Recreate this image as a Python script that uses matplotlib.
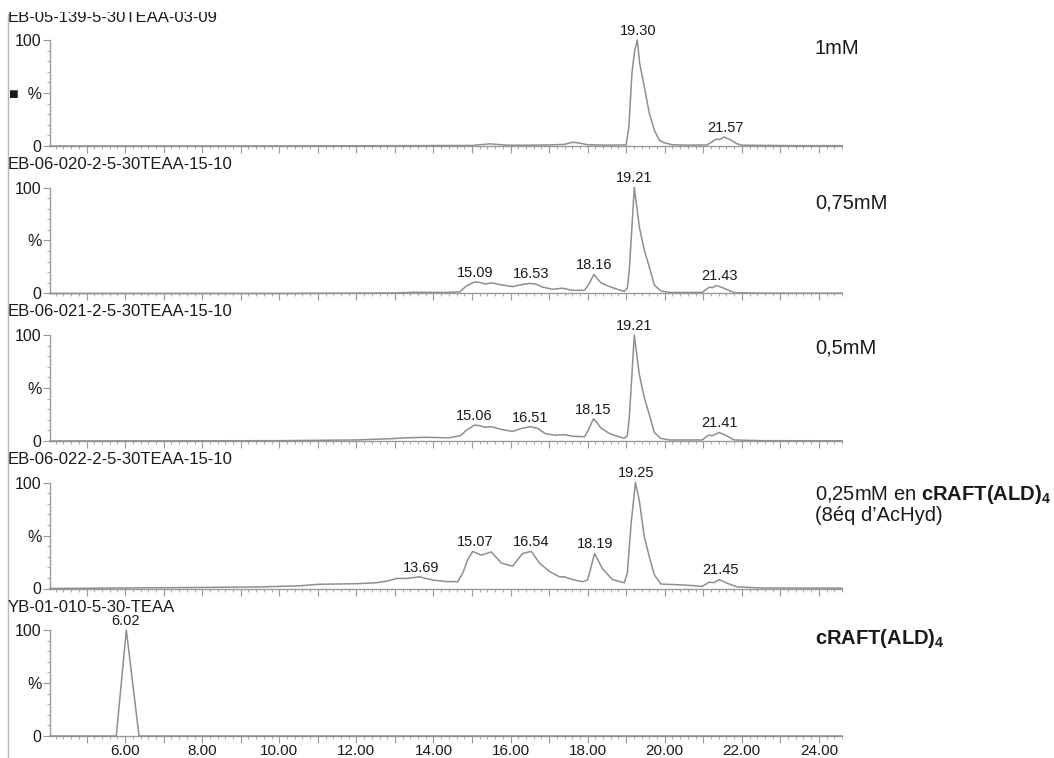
import numpy as np
import matplotlib
matplotlib.use("Agg")
import matplotlib.pyplot as plt
from matplotlib.ticker import MultipleLocator, FuncFormatter
from matplotlib.lines import Line2D
from matplotlib.patches import Rectangle

plt.rcParams["font.family"] = ["Liberation Sans", "DejaVu Sans"]
plt.rcParams["mathtext.fontset"] = "custom"
plt.rcParams["mathtext.rm"] = "Liberation Sans"
plt.rcParams["mathtext.bf"] = "Liberation Sans:bold"

# --- data (time in min, intensity in %) ---
titles = ["EB-05-139-5-30TEAA-03-09",
          "EB-06-020-2-5-30TEAA-15-10",
          "EB-06-021-2-5-30TEAA-15-10",
          "EB-06-022-2-5-30TEAA-15-10",
          "YB-01-010-5-30-TEAA"]

side_labels = ["1mM",
               "0,75mM",
               "0,5mM",
               "0,25mM en $\\mathbf{cRAFT(ALD)_4}$\n(8éq d\u2019AcHyd)",
               "$\\mathbf{cRAFT(ALD)_4}$"]

t1 = [4.05, 9.0, 13.0, 15.0, 15.3, 15.46, 15.65, 15.9, 16.5, 17.0, 17.4, 17.6, 17.75,
      18.0, 18.5, 19.0, 19.07, 19.15, 19.22, 19.29, 19.35, 19.47, 19.6, 19.73, 19.86,
      19.99, 20.2, 20.6, 21.1, 21.25, 21.34, 21.43, 21.54, 21.7, 21.85, 22.0, 23.0, 24.6]
y1 = [0, 0, 0.3, 0.5, 1.5, 2, 1.5, 0.8, 0.8, 1.0, 1.5, 3.5, 3,
      1.2, 0.8, 1, 18, 69, 90, 100, 78, 56, 31, 15, 5.5,
      3, 1.2, 0.8, 1, 4.5, 6.5, 6, 8.5, 6, 2.5, 0.8, 0.4, 0.3]

t2 = [4.05, 10.0, 13.0, 13.5, 14.3, 14.68, 14.85, 15.07, 15.2, 15.33, 15.51, 15.7, 16.05,
      16.3, 16.5, 16.65, 16.83, 17.09, 17.35, 17.6, 17.92, 18.05, 18.16, 18.25, 18.35,
      18.57, 18.77, 18.95, 19.03, 19.08, 19.15, 19.21, 19.34, 19.47, 19.6, 19.73, 19.9,
      20.12, 20.97, 21.16, 21.24, 21.34, 21.5, 21.8, 22.5, 24.6]
y2 = [0, 0, 0.5, 1.2, 1, 1.5, 7, 11, 10.5, 9, 10, 8.5, 6.5,
      8.5, 9.5, 9, 6, 4, 5, 3, 3, 10, 18, 14, 10,
      6.5, 4, 2, 5, 22, 63, 100, 63, 41, 25, 8, 2.4,
      1, 1, 6, 5.5, 7.5, 5.5, 0.8, 0.3, 0.2]

t3 = [4.05, 10.0, 12.0, 12.8, 13.3, 13.8, 14.4, 14.7, 14.85, 15.06, 15.2, 15.33, 15.5,
      15.75, 16.05, 16.3, 16.51, 16.7, 16.9, 17.15, 17.4, 17.6, 17.92, 18.04, 18.15,
      18.25, 18.35, 18.57, 18.77, 18.95, 19.03, 19.08, 19.15, 19.21, 19.34, 19.47, 19.6,
      19.73, 19.9, 20.12, 20.97, 21.14, 21.24, 21.41, 21.55, 21.8, 22.5, 24.6]
y3 = [0, 0.3, 1, 2, 3, 3.5, 3, 5, 10, 15, 14.5, 13, 13.5,
      11, 9, 12, 13.5, 12, 7, 5.5, 6, 4.5, 4, 12, 21,
      17, 12, 7, 4.5, 2.5, 5, 22, 63, 100, 63, 41, 25,
      8, 2.5, 1, 1, 5.5, 5, 8, 6, 1, 0.3, 0.2]

t4 = [4.05, 6.0, 8.0, 9.5, 10.5, 11.05, 12.0, 12.53, 12.8, 13.05, 13.3, 13.64, 13.98,
      14.33, 14.63, 14.76, 14.9, 15.02, 15.24, 15.5, 15.76, 16.05, 16.31, 16.54, 16.75,
      17.01, 17.27, 17.4, 17.6, 17.87, 18.0, 18.18, 18.38, 18.64, 18.95, 19.03, 19.13,
      19.24, 19.34, 19.47, 19.6, 19.73, 19.9, 20.38, 20.71, 20.97, 21.16, 21.28, 21.41,
      21.62, 21.88, 22.5, 24.6]
y4 = [0, 0.5, 1, 1.5, 2.5, 4, 4.5, 5.5, 7, 9.5, 9.5, 11, 8,
      6.5, 6.5, 14.6, 28, 35, 31.5, 34.5, 24, 21, 33, 35, 24,
      16, 11, 11, 8.5, 6.4, 8, 33, 19, 8.5, 5.4, 14.7, 62,
      100, 83, 49, 30, 13, 4.2, 3.5, 2.8, 2, 6, 5.5, 8.5,
      5, 1.5, 0.5, 0.3]

t5 = [4.05, 5.77, 6.03, 6.36, 24.6]
y5 = [0, 0, 100, 0, 0]

peaks1 = [19.30, 21.57]
peaks2 = [15.09, 16.53, 18.16, 19.21, 21.43]
peaks3 = [15.06, 16.51, 18.15, 19.21, 21.41]
peaks4 = [13.69, 15.07, 16.54, 18.19, 19.25, 21.45]
peaks5 = [6.02]

traces = [(t1, y1, peaks1), (t2, y2, peaks2), (t3, y3, peaks3),
          (t4, y4, peaks4), (t5, y5, peaks5)]

# --- layout in pixels (figure is 1054 x 758) ---
W, H = 1054, 758
TRACE = "#8f8f8f"
AXIS = "#9a9a9a"
TEXT = "#1a1a1a"
side_y = [48, 203, 348, 504, 639]


def fx(px):
    return px / W


def fy(py):
    return 1 - py / H


fig = plt.figure(figsize=(W / 100, H / 100), dpi=100)
fig.patch.set_facecolor("white")

for i, (t, y, peaks) in enumerate(traces):
    base = 146 + 147.5 * i
    ax = fig.add_axes([fx(50), fy(base), fx(842) - fx(50), 106 / H])
    ax.patch.set_alpha(0)
    t = np.array(t)
    y = np.array(y)
    ax.plot(t, y, color=TRACE, lw=1.1, clip_on=False, zorder=3)

    ax.set_xlim(4.05, 24.6)
    ax.set_ylim(0, 100)
    for s in ("top", "right"):
        ax.spines[s].set_visible(False)
    for s in ("left", "bottom"):
        ax.spines[s].set_color(AXIS)
        ax.spines[s].set_linewidth(1.0)

    ax.set_yticks([0, 50, 100])
    ax.set_yticklabels(["0", "\u25a0  %" if i == 0 else "%", "100"])
    ax.yaxis.set_minor_locator(MultipleLocator(10))
    ax.xaxis.set_major_locator(MultipleLocator(1))
    ax.xaxis.set_minor_locator(MultipleLocator(0.2))
    ax.tick_params(axis="both", which="major", length=5, color=AXIS,
                   labelcolor=TEXT, labelsize=11.5)
    ax.tick_params(axis="both", which="minor", length=2.5, color=AXIS)
    ax.tick_params(axis="y", pad=1)
    ax.tick_params(axis="x", pad=0.5)

    if i == len(traces) - 1:
        ax.xaxis.set_major_formatter(FuncFormatter(
            lambda v, _: f"{v:.2f}" if v >= 5.5 and round(v) % 2 == 0 else ""))
        ax.tick_params(axis="x", labelsize=11)
    else:
        ax.tick_params(axis="x", labelbottom=False)

    # retention time labels over the peaks
    for p in peaks:
        win = (t >= p - 0.2) & (t <= p + 0.2)
        ax.annotate(f"{p:.2f}", (p, y[win].max()), xytext=(0, 1.5),
                    textcoords="offset points", ha="center", va="bottom",
                    fontsize=10.5, color=TEXT, annotation_clip=False)

    fig.text(fx(8), fy(base - 129), titles[i], fontsize=12, color=TEXT,
             ha="left", va="center")
    fig.text(fx(815), fy(side_y[i]), side_labels[i], fontsize=14.5, color=TEXT,
             ha="left", va="center", linespacing=1.0)

# left frame line of the original printout and the cropped top edge
fig.add_artist(Line2D([fx(7.5), fx(7.5)], [fy(14), 0], color="#b8b8b8", lw=1.0))
fig.add_artist(Rectangle((0, fy(12)), 1, 12 / H, transform=fig.transFigure,
                         facecolor="white", edgecolor="none", zorder=10))

fig.savefig("out.png", dpi=100)
